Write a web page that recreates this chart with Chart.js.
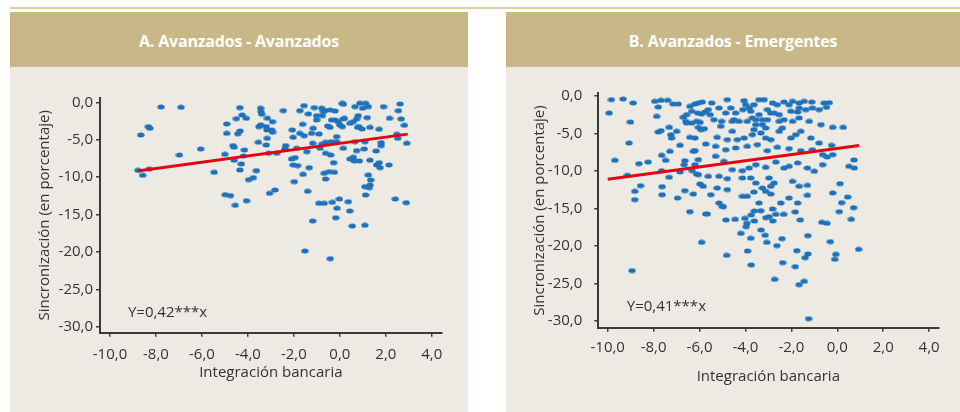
<!DOCTYPE html>
<html lang="es">
<head>
<meta charset="utf-8">
<title>Integración bancaria y sincronización</title>
<script src="https://cdn.jsdelivr.net/npm/chart.js@4.4.1/dist/chart.umd.min.js"></script>
<style>
  html, body { margin: 0; padding: 0; background: #fff; }
  body { width: 960px; height: 412px; position: relative; overflow: hidden; font-family: "Open Sans", sans-serif; }
  .rule { position: absolute; left: 10px; top: 7px; width: 950px; height: 2px; background: #d9cca6; }
  .panel { position: absolute; top: 12px; height: 400px; background: #edeae4; }
  .panel h2 { margin: 0; height: 55px; line-height: 58px; background: #c8b887; color: #fff;
              font-size: 16px; font-weight: 700; text-align: center; letter-spacing: -0.2px; }
  #panelA { left: 10px; width: 458px; }
  #panelB { left: 506px; width: 454px; }
</style>
</head>
<body>
<div class="rule"></div>
<div class="panel" id="panelA">
  <h2>A. Avanzados - Avanzados</h2>
  <canvas id="chartA" width="458" height="345"></canvas>
</div>
<div class="panel" id="panelB">
  <h2>B. Avanzados - Emergentes</h2>
  <canvas id="chartB" width="454" height="345"></canvas>
</div>
<script>
// axis ticks
const xTicks = [-10, -8, -6, -4, -2, 0, 2, 4];
const yTicks = [0, -5, -10, -15, -20, -25, -30];

// A. Avanzados - Avanzados: [integración bancaria, sincronización]
const puntosA = [
  [-7.78,-0.63],[-6.91,-0.67],[-8.33,-3.26],[-8.26,-3.48],[-8.66,-4.37],[-8.78,-9.09],[-8.58,-9.76],[-8.29,-8.92],
  [-6.98,-7.05],[-6.05,-6.24],[-5.47,-9.36],[-4.99,-12.35],[-4.76,-12.48],[-4.55,-13.77],[-4.06,-13.16],[-5.0,-6.95],
  [-4.65,-5.8],[-4.6,-6.0],[-4.15,-6.38],[-4.6,-7.75],[-4.29,-8.25],[-4.35,-9.05],[-3.97,-10.35],[-3.76,-10.08],
  [-3.63,-9.14],[-4.92,-2.9],[-4.92,-4.15],[-4.44,-4.2],[-4.34,-3.84],[-4.35,-0.72],[-4.5,-2.19],[-4.25,-1.7],
  [-4.07,-2.14],[-4.19,-7.18],[-3.54,-5.35],[-3.45,-0.8],[-3.43,-1.25],[-3.4,-1.6],[-3.52,-3.26],[-3.44,-3.03],
  [-3.2,-3.26],[-3.17,-3.7],[-3.15,-2.14],[-3.2,-5.71],[-3.16,-4.81],[-3.06,-12.17],[-3.1,-6.82],
  [-2.46,-1.12],[-2.93,-2.59],[-2.97,-3.7],[-2.93,-4.01],[-2.07,-3.7],[-2.03,-4.68],[-1.74,-1.12],[-1.56,-0.45],
  [-1.37,-1.56],[-1.62,-2.94],[-1.74,-4.15],[-1.55,-4.47],[-1.23,-4.15],[-1.16,-3.48],[-1.11,-0.72],[-1.01,-1.79],
  [-1.01,-2.37],[-0.91,-4.24],[-0.79,-0.8],[-0.76,-1.79],[-0.72,-1.25],[-0.65,-1.12],[-0.43,-1.03],[-0.21,-1.16],
  [-0.36,-2.37],[-0.21,-2.37],[-0.53,-3.17],[-0.43,-3.35],[-0.07,-2.59],[0.0,-3.03],[0.11,-0.14],[0.15,-0.27],
  [0.15,-2.23],[0.2,-2.14],[0.11,-3.26],[0.44,-2.81],[0.59,-2.59],[0.66,-0.59],[0.8,-1.79],[0.73,-2.23],
  [0.83,-3.26],[0.77,-3.35],[0.87,-0.14],[0.99,-0.8],[1.12,-0.14],[1.24,-0.59],[1.19,-2.05],[0.97,-3.57],
  [1.31,-3.35],[1.71,-3.61],[1.9,-0.59],[2.16,-2.14],[2.55,-1.12],[2.62,-0.23],[2.67,-2.23],[2.81,-3.08],
  [2.52,-4.81],[2.48,-4.28],[2.91,-5.48],[1.8,-5.4],[1.8,-5.8],[1.58,-6.51],[1.31,-7.75],[1.6,-8.38],
  [1.75,-8.74],[1.71,-8.07],[2.14,-8.38],[1.09,-5.27],[1.06,-6.24],[0.73,-6.47],[0.85,-7.85],[0.66,-5.27],
  [0.15,-6.15],[-0.14,-4.6],[-0.14,-5.27],[-0.38,-5.27],[-0.62,-5.35],[-0.79,-5.61],[-0.86,-6.15],[-1.18,-5.48],
  [-1.44,-6.6],[-1.88,-6.15],[-2.36,-5.8],[-2.39,-6.24],[-2.75,-6.82],[-2.1,-7.58],[-1.95,-7.4],[-2.03,-8.38],
  [-1.84,-8.47],[-1.33,-8.74],[-1.6,-9.63],[-1.98,-10.61],[-0.62,-6.82],[-0.4,-7.05],[-0.27,-8.07],[-0.68,-9.49],
  [-0.46,-9.28],[-0.24,-9.36],[-0.62,-10.25],[0.44,-7.58],[0.59,-7.35],[0.63,-7.85],[1.24,-9.72],[1.34,-10.39],
  [1.09,-11.28],[1.28,-11.42],[1.31,-11.06],[1.12,-12.39],[-1.4,-11.9],[-2.82,-11.72],[-0.91,-13.5],[-0.68,-13.5],
  [-0.33,-13.37],[-0.02,-12.93],[0.37,-13.29],[-0.12,-14.17],[0.43,-14.53],[-0.18,-15.43],[-1.18,-15.87],[0.54,-16.54],
  [1.09,-16.44],[2.41,-12.93],[2.89,-13.42],[-1.52,-19.88],[-0.42,-20.9]
];
const rectaA = [[-8.8,-9.2],[2.95,-4.26]];

// B. Avanzados - Emergentes
const puntosB = [
  [-9.84,-0.49],[-9.33,-0.4],[-8.89,-0.93],[-9.94,-2.27],[-9.01,-3.47],[-9.07,-6.27],[-9.69,-8.58],[-8.64,-9.02],
  [-8.24,-8.8],[-9.14,-10.58],[-8.57,-11.96],[-8.82,-12.71],[-8.82,-13.82],[-7.95,-0.71],[-7.68,-0.58],[-7.39,-0.58],
  [-7.15,-1.07],[-6.93,-1.07],[-7.8,-1.47],[-7.87,-2.71],[-7.8,-4.8],[-7.68,-4.62],[-7.32,-4.18],[-7.0,-4.71],
  [-7.25,-5.16],[-7.22,-5.6],[-6.85,-6.58],[-7.29,-7.38],[-7.65,-7.91],[-7.48,-8.58],[-7.65,-9.96],[-7.32,-10.84],
  [-7.63,-12.09],[-7.63,-13.16],[-6.96,-13.6],[-6.64,-12.62],[-6.27,-13.07],[-6.64,-8.62],[-6.67,-9.16],[-6.85,-10.13],
  [-6.42,-5.51],[-6.2,-5.6],[-6.27,-7.38],[-6.2,-7.29],[-6.05,-8.49],[-6.2,-9.16],[-6.13,-10.4],[-6.32,-9.96],
  [-5.98,-11.73],[-5.84,-12.04],[-5.62,-10.71],[-5.73,-6.4],[-5.51,-13.16],[-6.71,-2.84],[-6.56,-2.49],[-6.56,-3.6],
  [-6.6,-3.38],[-6.34,-3.6],[-6.42,-1.38],[-6.2,-1.07],[-6.05,-0.93],[-5.88,-0.8],[-6.34,-2.04],[-6.08,-2.27],
  [-5.91,-2.4],[-5.76,-2.13],[-5.62,-1.82],[-5.54,-2.49],[-5.47,-0.93],[-6.13,-3.38],[-5.98,-3.51],[-6.05,-4.18],
  [-5.79,-4.36],[-5.94,-4.49],[-6.05,-10.49],
  [-4.79,-0.49],[-4.06,-0.62],[-3.99,-1.16],[-4.11,-1.82],[-3.84,-1.6],[-3.63,-1.16],[-3.41,-0.49],[-3.19,-0.49],
  [-2.82,-0.93],[-2.61,-1.16],[-2.32,-0.8],[-1.95,-0.71],[-1.66,-0.93],[-1.44,-0.71],[-1.11,-0.8],[-0.57,-0.93],
  [-5.15,-1.6],[-4.64,-1.6],[-4.43,-2.27],[-4.86,-2.27],[-5.37,-3.16],[-5.04,-3.38],[-4.5,-3.16],[-4.28,-3.38],
  [-3.92,-3.38],[-3.7,-2.93],[-3.41,-2.49],[-3.26,-3.16],[-3.04,-3.16],[-2.9,-2.27],[-3.04,-1.82],[-2.75,-2.27],
  [-2.53,-2.49],[-2.32,-3.16],[-2.02,-2.04],[-1.73,-2.13],[-1.66,-2.93],[-1.37,-1.82],[-1.08,-1.6],[-0.79,-1.82],
  [-1.95,-3.38],[-1.22,-3.38],[-0.71,-3.82],[-5.08,-4.04],[-4.57,-4.71],[-5.23,-5.51],[-4.79,-5.82],[-4.35,-5.82],
  [-4.06,-5.6],[-3.63,-4.49],[-3.33,-4.93],[-3.12,-5.6],[-2.9,-5.82],[-2.53,-4.71],[-2.39,-4.27],[-2.02,-5.6],
  [-1.81,-5.16],[-1.59,-4.71],[-1.15,-5.6],[-0.79,-6.27],[-5.3,-6.71],[-4.86,-7.16],[-4.43,-6.93],[-3.92,-6.71],
  [-3.48,-6.49],[-3.04,-7.29],[-2.61,-6.84],[-2.1,-7.02],[-1.59,-7.29],[-1.08,-7.16],[-0.64,-7.82],[-5.3,-8.04],
  [-4.94,-8.71],[-4.57,-9.82],[-4.13,-9.96],[-3.84,-9.6],[-3.55,-9.16],[-3.12,-9.51],[-2.68,-8.8],[-2.32,-9.6],
  [-2.1,-9.38],[-1.73,-8.93],[-1.3,-9.6],[-1.0,-10.04],[-0.64,-9.16],[-5.15,-10.71],[-4.79,-11.02],[-4.13,-10.93],
  [-3.77,-10.93],[-3.55,-11.6],[-2.97,-10.93],[-2.75,-11.6],[-2.9,-12.04],[-1.95,-11.38],[-1.66,-12.04],[-1.3,-11.91],
  [-5.23,-12.27],[-4.79,-12.49],[-4.13,-13.38],[-3.92,-13.38],[-3.63,-12.8],[-3.26,-12.27],[-3.12,-12.71],[-2.9,-13.07],
  [-2.1,-13.6],[-1.3,-13.24],[-5.15,-14.27],[-5.01,-14.71],[-3.41,-14.27],[-2.46,-14.27],[-1.73,-14.27],
  [-3.55,-3.16],[-3.26,-3.82],[-3.12,-4.27],[-3.55,-3.82],[-2.53,-3.38],[-3.77,-2.04],[-2.1,-1.16],[-1.66,-1.6],
  [-4.57,-3.38],[-3.7,-5.16],
  [-0.35,-0.89],[-0.47,-1.51],[-0.2,-4.18],[0.26,-4.18],[-0.25,-6.58],[-0.2,-7.82],[-0.44,-8.13],[0.73,-8.53],
  [0.51,-9.38],[0.74,-9.6],[0.12,-11.69],[-0.2,-12.93],[0.45,-13.47],[0.19,-14.22],
  [-6.42,-15.42],[-5.73,-15.73],[-5.66,-15.73],[-4.96,-14.75],[-4.85,-16.53],[-4.45,-16.44],[-4.02,-16.31],[-3.75,-15.86],
  [-3.61,-15.33],[-3.33,-15.29],[-3.94,-16.97],[-3.97,-17.42],[-3.61,-16.66],[-3.11,-16.22],[-2.97,-16.09],[-2.82,-15.06],
  [-2.81,-16.66],[-2.68,-15.78],[-2.34,-15.78],[-1.83,-15.46],[-1.61,-16.53],[-0.67,-16.84],[-0.45,-16.97],[0.09,-15.42],
  [0.71,-14.89],[0.61,-16.44],[-3.32,-17.86],[-4.2,-18.31],[-3.77,-18.97],[-3.14,-18.57],[-2.41,-19.02],[-3.07,-19.51],
  [-2.63,-19.95],[-1.28,-18.62],[-0.3,-19.42],[-5.91,-19.51],[-4.82,-21.24],[-3.91,-20.66],[-1.76,-20.62],[-1.28,-21.06],
  [-1.4,-21.55],[-0.06,-21.11],[-0.11,-21.77],[0.93,-20.44],[-3.75,-22.53],[-2.38,-22.22],[-1.83,-22.75],[-8.94,-23.28],
  [-2.73,-24.44],[-1.66,-25.15],[-1.44,-24.71],[-1.25,-29.69]
];
const rectaB = [[-10.0,-11.1],[0.95,-6.61]];

// elliptical marker like the original dots
const dot = document.createElement('canvas');
dot.width = 8; dot.height = 6;
const dctx = dot.getContext('2d');
dctx.fillStyle = '#1e72bb';
dctx.beginPath();
dctx.ellipse(4, 3, 3.7, 2.5, 0, 0, Math.PI * 2);
dctx.fill();

const ink = '#3a3a3a';
const txt = '#333333';
const fnt = { family: '"Open Sans", sans-serif', size: 15 };
const fmt = v => v.toFixed(1).replace('.', ',');

// equation text inside the plot
const eqLabel = {
  id: 'eqLabel',
  afterDatasetsDraw(chart, args, opts) {
    const { ctx, scales: { x, y } } = chart;
    ctx.save();
    ctx.font = '15px "Open Sans", sans-serif';
    ctx.fillStyle = txt;
    ctx.textBaseline = 'middle';
    ctx.fillText(opts.text, x.getPixelForValue(opts.x), y.getPixelForValue(opts.y));
    ctx.restore();
  }
};

function makeChart(id, puntos, recta, eq, g) {
  new Chart(document.getElementById(id), {
    type: 'scatter',
    data: {
      datasets: [
        {
          type: 'line',
          data: recta.map(p => ({ x: p[0], y: p[1] })),
          borderColor: '#e30613',
          borderWidth: 3,
          pointRadius: 0,
          order: 0
        },
        {
          data: puntos.map(p => ({ x: p[0], y: p[1] })),
          pointStyle: dot,
          pointRadius: 3,
          order: 1
        }
      ]
    },
    options: {
      responsive: false,
      animation: false,
      layout: { padding: { left: 0, right: g.padR, top: g.padT, bottom: 0 } },
      plugins: {
        legend: { display: false },
        tooltip: { enabled: false },
        eqLabel: eq
      },
      scales: {
        x: {
          type: 'linear',
          min: g.xMin, max: g.xMax,
          afterBuildTicks: s => { s.ticks = xTicks.map(v => ({ value: v })); },
          afterFit: s => { s.height = g.xH; },
          grid: { drawOnChartArea: false, drawTicks: true, tickLength: 4, color: ink, lineWidth: 1.5 },
          border: { display: true, color: ink, width: 2 },
          ticks: { padding: g.xPad, color: txt, font: fnt, callback: fmt, maxRotation: 0, autoSkip: false },
          title: { display: true, text: 'Integración bancaria', color: txt, font: fnt,
                   padding: { top: 0, bottom: g.xTitle } }
        },
        y: {
          type: 'linear',
          min: g.yMin, max: g.yMax,
          afterBuildTicks: s => { s.ticks = yTicks.map(v => ({ value: v })); },
          afterFit: s => { s.width = g.yW; },
          grid: { drawOnChartArea: false, drawTicks: true, tickLength: 4, color: ink, lineWidth: 1.5 },
          border: { display: true, color: ink, width: 2 },
          ticks: { padding: g.yPad, color: txt, font: fnt, callback: fmt, autoSkip: false },
          title: { display: true, text: 'Sincronización (en porcentaje)', color: txt, font: fnt,
                   padding: { top: g.yTitle, bottom: 0 } }
        }
      }
    },
    plugins: [eqLabel]
  });
}

makeChart('chartA', puntosA, rectaA, { text: 'Y=0,42***x', x: -9.22, y: -28.1 }, {
  padR: 26.3, padT: 31, xH: 79.3, yW: 90,
  xMin: -10.435, xMax: 4.43, yMin: -30.8, yMax: 0.57,
  xPad: 9, yPad: 3, xTitle: 30, yTitle: 26
});

makeChart('chartB', puntosB, rectaB, { text: 'Y=0,41***x', x: -9.17, y: -28.1 }, {
  padR: 21.7, padT: 26.3, xH: 84.3, yW: 92.3,
  xMin: -10.41, xMax: 4.4, yMin: -30.89, yMax: 0.36,
  xPad: 7, yPad: 12, xTitle: 26, yTitle: 25
});
</script>
</body>
</html>
